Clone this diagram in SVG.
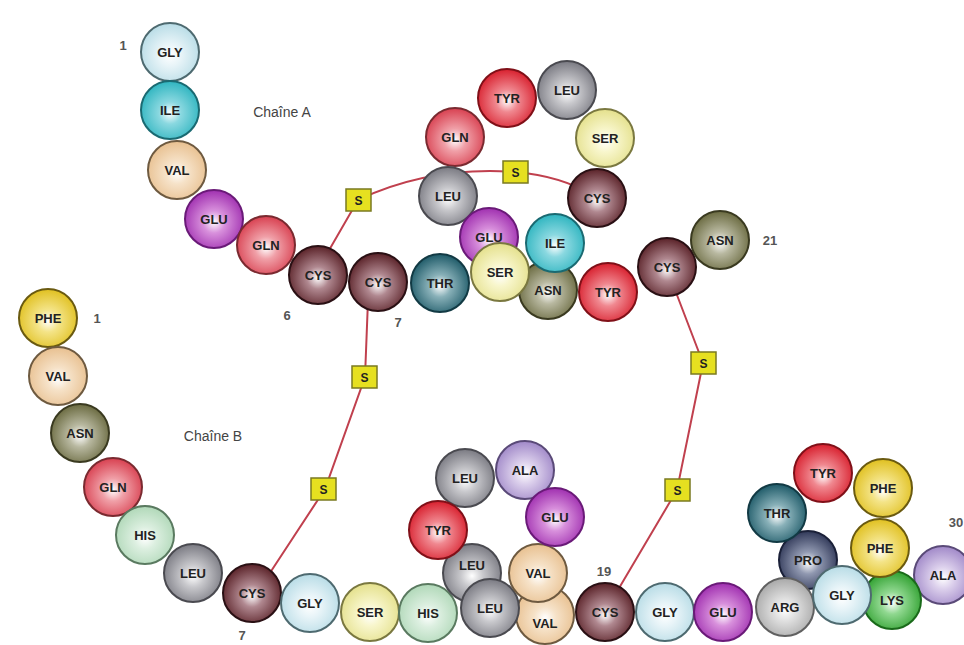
<svg xmlns="http://www.w3.org/2000/svg" width="964" height="645" viewBox="0 0 964 645">
<defs>
<radialGradient id="gGLY" cx="50%" cy="55%" r="55%"><stop offset="0" stop-color="#ffffff"/><stop offset="0.35" stop-color="#e8f4f8"/><stop offset="1" stop-color="#b8dce6"/></radialGradient>
<radialGradient id="gILE" cx="50%" cy="55%" r="55%"><stop offset="0" stop-color="#ffffff"/><stop offset="0.35" stop-color="#8ad8e0"/><stop offset="1" stop-color="#2fb5c0"/></radialGradient>
<radialGradient id="gVAL" cx="50%" cy="55%" r="55%"><stop offset="0" stop-color="#ffffff"/><stop offset="0.35" stop-color="#f6e2c8"/><stop offset="1" stop-color="#e8c090"/></radialGradient>
<radialGradient id="gGLU" cx="50%" cy="55%" r="55%"><stop offset="0" stop-color="#ffffff"/><stop offset="0.35" stop-color="#d890dc"/><stop offset="1" stop-color="#a030b0"/></radialGradient>
<radialGradient id="gGLN" cx="50%" cy="55%" r="55%"><stop offset="0" stop-color="#ffffff"/><stop offset="0.35" stop-color="#f0a0a8"/><stop offset="1" stop-color="#d84050"/></radialGradient>
<radialGradient id="gCYS" cx="50%" cy="55%" r="55%"><stop offset="0" stop-color="#ffffff"/><stop offset="0.35" stop-color="#b08890"/><stop offset="1" stop-color="#5a2228"/></radialGradient>
<radialGradient id="gTHR" cx="50%" cy="55%" r="55%"><stop offset="0" stop-color="#ffffff"/><stop offset="0.35" stop-color="#88b0b8"/><stop offset="1" stop-color="#1e5a68"/></radialGradient>
<radialGradient id="gSER" cx="50%" cy="55%" r="55%"><stop offset="0" stop-color="#ffffff"/><stop offset="0.35" stop-color="#f8f6cc"/><stop offset="1" stop-color="#e4e08c"/></radialGradient>
<radialGradient id="gASN" cx="50%" cy="55%" r="55%"><stop offset="0" stop-color="#ffffff"/><stop offset="0.35" stop-color="#b8b8a0"/><stop offset="1" stop-color="#6a6a40"/></radialGradient>
<radialGradient id="gLEU" cx="50%" cy="55%" r="55%"><stop offset="0" stop-color="#ffffff"/><stop offset="0.35" stop-color="#c8c8cc"/><stop offset="1" stop-color="#7a7a82"/></radialGradient>
<radialGradient id="gTYR" cx="50%" cy="55%" r="55%"><stop offset="0" stop-color="#ffffff"/><stop offset="0.35" stop-color="#f08890"/><stop offset="1" stop-color="#d8202e"/></radialGradient>
<radialGradient id="gPHE" cx="50%" cy="55%" r="55%"><stop offset="0" stop-color="#ffffff"/><stop offset="0.35" stop-color="#f4e488"/><stop offset="1" stop-color="#e0c020"/></radialGradient>
<radialGradient id="gHIS" cx="50%" cy="55%" r="55%"><stop offset="0" stop-color="#ffffff"/><stop offset="0.35" stop-color="#dcefe0"/><stop offset="1" stop-color="#b0d8b8"/></radialGradient>
<radialGradient id="gALA" cx="50%" cy="55%" r="55%"><stop offset="0" stop-color="#ffffff"/><stop offset="0.35" stop-color="#dcd0ec"/><stop offset="1" stop-color="#a088c8"/></radialGradient>
<radialGradient id="gARG" cx="50%" cy="55%" r="55%"><stop offset="0" stop-color="#ffffff"/><stop offset="0.35" stop-color="#e0e0e0"/><stop offset="1" stop-color="#a8a8a8"/></radialGradient>
<radialGradient id="gPRO" cx="50%" cy="55%" r="55%"><stop offset="0" stop-color="#ffffff"/><stop offset="0.35" stop-color="#9098b0"/><stop offset="1" stop-color="#303858"/></radialGradient>
<radialGradient id="gLYS" cx="50%" cy="55%" r="55%"><stop offset="0" stop-color="#ffffff"/><stop offset="0.35" stop-color="#90d890"/><stop offset="1" stop-color="#30a030"/></radialGradient>
</defs>
<style>
circle{stroke-width:2}
.GLY{fill:url(#gGLY);stroke:#4e6a70}
.ILE{fill:url(#gILE);stroke:#1a6a72}
.VAL{fill:url(#gVAL);stroke:#6e5a40}
.GLU{fill:url(#gGLU);stroke:#6a1a78}
.GLN{fill:url(#gGLN);stroke:#7a2a30}
.CYS{fill:url(#gCYS);stroke:#2a1014}
.THR{fill:url(#gTHR);stroke:#123a44}
.SER{fill:url(#gSER);stroke:#7a7840}
.ASN{fill:url(#gASN);stroke:#3a3a20}
.LEU{fill:url(#gLEU);stroke:#4a4a50}
.TYR{fill:url(#gTYR);stroke:#801018}
.PHE{fill:url(#gPHE);stroke:#6a5a10}
.HIS{fill:url(#gHIS);stroke:#5a7a60}
.ALA{fill:url(#gALA);stroke:#5a4a78}
.ARG{fill:url(#gARG);stroke:#606060}
.PRO{fill:url(#gPRO);stroke:#1a2038}
.LYS{fill:url(#gLYS);stroke:#1a6a1a}
.aa{font-family:"Liberation Sans",Arial,sans-serif;font-size:13px;font-weight:bold;fill:#222;text-anchor:middle}
.num{font-family:"Liberation Sans",Arial,sans-serif;font-size:13px;font-weight:bold;fill:#555;text-anchor:middle}
.lbl{font-family:"Liberation Sans",Arial,sans-serif;font-size:14px;fill:#444;text-anchor:middle}
.bond{fill:none;stroke:#c0404e;stroke-width:2}
.sbox{fill:#e6e020;stroke:#7a7a20;stroke-width:1.5}
.s{font-family:"Liberation Sans",Arial,sans-serif;font-size:12px;font-weight:bold;fill:#222;text-anchor:middle}
</style>
<rect width="964" height="645" fill="#ffffff"/>
<g id="connectors">
<path class="bond" d="M 328 252 L 358 200 Q 430 166 515 172 Q 562 176 594 196"/>
<path class="bond" d="M 368 300 L 365 377 L 325 489 L 262 585"/>
<path class="bond" d="M 672 282 L 703 363 L 677 490 L 612 600"/>
</g>
<g id="labels">
<text class="lbl" x="282" y="117">Chaîne A</text>
<text class="lbl" x="213" y="441">Chaîne B</text>
<text class="num" x="123" y="50">1</text>
<text class="num" x="287" y="320">6</text>
<text class="num" x="398" y="327">7</text>
<text class="num" x="770" y="245">21</text>
<text class="num" x="97" y="323">1</text>
<text class="num" x="242" y="640">7</text>
<text class="num" x="604" y="576">19</text>
<text class="num" x="956" y="527">30</text>
</g>
<g id="chainA">
<g id="A1"><circle class="GLY" cx="170" cy="52" r="29"/><text class="aa" x="170" y="57">GLY</text></g>
<g id="A2"><circle class="ILE" cx="170" cy="110" r="29"/><text class="aa" x="170" y="115">ILE</text></g>
<g id="A3"><circle class="VAL" cx="177" cy="170" r="29"/><text class="aa" x="177" y="175">VAL</text></g>
<g id="A4"><circle class="GLU" cx="214" cy="219" r="29"/><text class="aa" x="214" y="224">GLU</text></g>
<g id="A5"><circle class="GLN" cx="266" cy="245" r="29"/><text class="aa" x="266" y="250">GLN</text></g>
<g id="A6"><circle class="CYS" cx="318" cy="275" r="29"/><text class="aa" x="318" y="280">CYS</text></g>
<g id="A7"><circle class="CYS" cx="378" cy="282" r="29"/><text class="aa" x="378" y="287">CYS</text></g>
<g id="A8"><circle class="THR" cx="440" cy="283" r="29"/><text class="aa" x="440" y="288">THR</text></g>
<g id="A10"><circle class="GLN" cx="455" cy="137" r="29"/><text class="aa" x="455" y="142">GLN</text></g>
<g id="A11"><circle class="TYR" cx="507" cy="98" r="29"/><text class="aa" x="507" y="103">TYR</text></g>
<g id="A12"><circle class="LEU" cx="567" cy="90" r="29"/><text class="aa" x="567" y="95">LEU</text></g>
<g id="A13"><circle class="SER" cx="605" cy="138" r="29"/><text class="aa" x="605" y="143">SER</text></g>
<g id="A14"><circle class="CYS" cx="597" cy="198" r="29"/><text class="aa" x="597" y="203">CYS</text></g>
<g id="A15"><circle class="LEU" cx="448" cy="196" r="29"/><text class="aa" x="448" y="201">LEU</text></g>
<g id="A16"><circle class="GLU" cx="489" cy="237" r="29"/><text class="aa" x="489" y="242">GLU</text></g>
<g id="A17"><circle class="ASN" cx="548" cy="290" r="29"/><text class="aa" x="548" y="295">ASN</text></g>
<g id="A18"><circle class="ILE" cx="555" cy="243" r="29"/><text class="aa" x="555" y="248">ILE</text></g>
<g id="A9"><circle class="SER" cx="500" cy="272" r="29"/><text class="aa" x="500" y="277">SER</text></g>
<g id="A19"><circle class="TYR" cx="608" cy="292" r="29"/><text class="aa" x="608" y="297">TYR</text></g>
<g id="A20"><circle class="CYS" cx="667" cy="267" r="29"/><text class="aa" x="667" y="272">CYS</text></g>
<g id="A21"><circle class="ASN" cx="720" cy="240" r="29"/><text class="aa" x="720" y="245">ASN</text></g>
</g>
<g id="chainB">
<g id="B1"><circle class="PHE" cx="48" cy="318" r="29"/><text class="aa" x="48" y="323">PHE</text></g>
<g id="B2"><circle class="VAL" cx="58" cy="376" r="29"/><text class="aa" x="58" y="381">VAL</text></g>
<g id="B3"><circle class="ASN" cx="80" cy="433" r="29"/><text class="aa" x="80" y="438">ASN</text></g>
<g id="B4"><circle class="GLN" cx="113" cy="487" r="29"/><text class="aa" x="113" y="492">GLN</text></g>
<g id="B5"><circle class="HIS" cx="145" cy="535" r="29"/><text class="aa" x="145" y="540">HIS</text></g>
<g id="B6"><circle class="LEU" cx="193" cy="573" r="29"/><text class="aa" x="193" y="578">LEU</text></g>
<g id="B7"><circle class="CYS" cx="252" cy="593" r="29"/><text class="aa" x="252" y="598">CYS</text></g>
<g id="B8"><circle class="GLY" cx="310" cy="603" r="29"/><text class="aa" x="310" y="608">GLY</text></g>
<g id="B9"><circle class="SER" cx="370" cy="612" r="29"/><text class="aa" x="370" y="617">SER</text></g>
<g id="B10"><circle class="HIS" cx="428" cy="613" r="29"/><text class="aa" x="428" y="618">HIS</text></g>
<g id="B12"><circle class="VAL" cx="545" cy="615" r="29"/><text class="aa" x="545" y="628">VAL</text></g>
<g id="B17"><circle class="LEU" cx="472" cy="573" r="29"/><text class="aa" x="472" y="570">LEU</text></g>
<g id="B15"><circle class="LEU" cx="465" cy="478" r="29"/><text class="aa" x="465" y="483">LEU</text></g>
<g id="B16"><circle class="TYR" cx="438" cy="530" r="29"/><text class="aa" x="438" y="535">TYR</text></g>
<g id="B11"><circle class="LEU" cx="490" cy="608" r="29"/><text class="aa" x="490" y="613">LEU</text></g>
<g id="B18"><circle class="VAL" cx="538" cy="573" r="29"/><text class="aa" x="538" y="578">VAL</text></g>
<g id="B14"><circle class="ALA" cx="525" cy="470" r="29"/><text class="aa" x="525" y="475">ALA</text></g>
<g id="B13"><circle class="GLU" cx="555" cy="517" r="29"/><text class="aa" x="555" y="522">GLU</text></g>
<g id="B19"><circle class="CYS" cx="605" cy="612" r="29"/><text class="aa" x="605" y="617">CYS</text></g>
<g id="B20"><circle class="GLY" cx="665" cy="612" r="29"/><text class="aa" x="665" y="617">GLY</text></g>
<g id="B21"><circle class="GLU" cx="723" cy="612" r="29"/><text class="aa" x="723" y="617">GLU</text></g>
<g id="B30"><circle class="ALA" cx="943" cy="575" r="29"/><text class="aa" x="943" y="580">ALA</text></g>
<g id="B29"><circle class="LYS" cx="892" cy="600" r="29"/><text class="aa" x="892" y="605">LYS</text></g>
<g id="B28"><circle class="PRO" cx="808" cy="560" r="29"/><text class="aa" x="808" y="565">PRO</text></g>
<g id="B25"><circle class="PHE" cx="880" cy="548" r="29"/><text class="aa" x="880" y="553">PHE</text></g>
<g id="B22"><circle class="ARG" cx="785" cy="607" r="29"/><text class="aa" x="785" y="612">ARG</text></g>
<g id="B23"><circle class="GLY" cx="842" cy="595" r="29"/><text class="aa" x="842" y="600">GLY</text></g>
<g id="B27"><circle class="THR" cx="777" cy="513" r="29"/><text class="aa" x="777" y="518">THR</text></g>
<g id="B26"><circle class="TYR" cx="823" cy="473" r="29"/><text class="aa" x="823" y="478">TYR</text></g>
<g id="B24"><circle class="PHE" cx="883" cy="488" r="29"/><text class="aa" x="883" y="493">PHE</text></g>
</g>
<g id="bridges">
<g id="S1"><rect class="sbox" x="346" y="189" width="25" height="22"/><text class="s" x="358.5" y="205">S</text></g>
<g id="S2"><rect class="sbox" x="503" y="161" width="25" height="22"/><text class="s" x="515.5" y="177">S</text></g>
<g id="S3"><rect class="sbox" x="352" y="366" width="25" height="22"/><text class="s" x="364.5" y="382">S</text></g>
<g id="S4"><rect class="sbox" x="311" y="478" width="25" height="22"/><text class="s" x="323.5" y="494">S</text></g>
<g id="S5"><rect class="sbox" x="691" y="352" width="25" height="22"/><text class="s" x="703.5" y="368">S</text></g>
<g id="S6"><rect class="sbox" x="665" y="479" width="25" height="22"/><text class="s" x="677.5" y="495">S</text></g>
</g>
</svg>
